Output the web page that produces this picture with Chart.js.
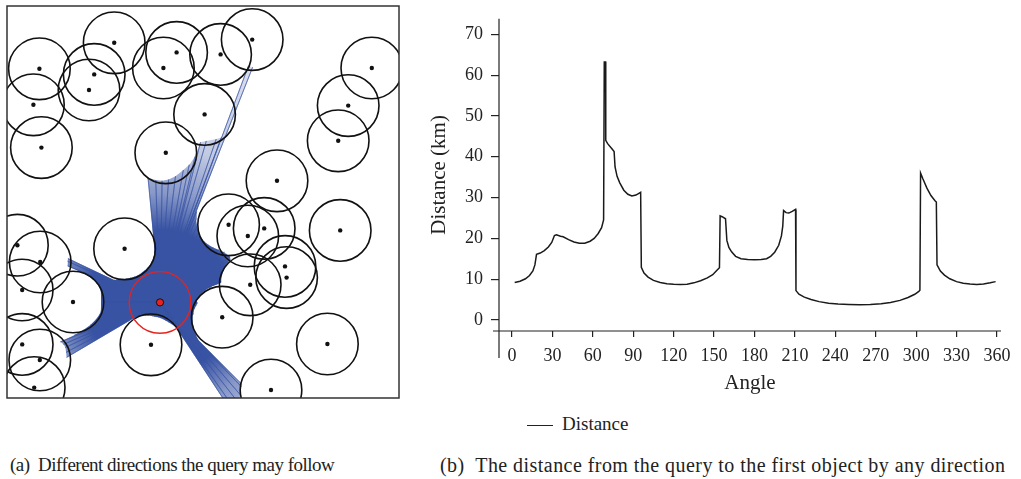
<!DOCTYPE html>
<html>
<head>
<meta charset="utf-8">
<script src="https://cdn.jsdelivr.net/npm/chart.js@4.4.1/dist/chart.umd.min.js"></script>
<style>
  html, body { margin: 0; padding: 0; background: #fff; }
  #fig { position: relative; width: 1021px; height: 479px; overflow: hidden; font-family: 'Liberation Serif', serif; color: #222; }
  #left-wrap  { position: absolute; left: 0; top: 0; width: 410px; height: 405px; }
  #right-wrap { position: absolute; left: 420px; top: 0; width: 601px; height: 400px; }
  .legend { position: absolute; left: 527px; top: 411px; font-size: 19px; line-height: 26px; }
  .legend .swatch { display: inline-block; width: 26px; border-top: 1.4px solid #222; vertical-align: middle; margin-right: 9px; }
  .caption { position: absolute; top: 452px; font-size: 19px; line-height: 26px; white-space: nowrap; }
  #cap-a { left: 10px; letter-spacing: -0.5px; }
  #cap-b { left: 440px; font-size: 20px; letter-spacing: 0.45px; }
</style>
</head>
<body>
<div id="fig">
  <div id="left-wrap"><canvas id="dir-chart"></canvas></div>
  <div id="right-wrap"><canvas id="dist-chart"></canvas></div>
  <div class="legend"><span class="swatch"></span>Distance</div>
  <div class="caption" id="cap-a">(a)&nbsp; Different directions the query may follow</div>
  <div class="caption" id="cap-b">(b)&nbsp; The distance from the query to the first object by any direction</div>
</div>

<script>
// ─── DATA ────────────────────────────────────────────────────────
// direction (degrees, counter-clockwise from east) -> distance to first object (km)
const angles = [
  2, 6, 10, 13, 15.5, 17, 17.8, 18.2, 21, 24, 27, 29.5, 31.5, 33, 36, 38, 42, 46, 50, 54,
  58, 61, 64, 66.5, 68, 68.5, 69.5, 69.6, 71, 74, 75.8, 76.5, 78, 80, 83, 86, 89, 92, 95.5, 96,
  98, 101, 105, 110, 115, 120, 125, 130, 135, 140, 145, 149, 152.5, 154, 154.5, 156, 158.5, 159.5, 161, 163,
  166, 170, 175, 180, 185, 189, 192, 195, 198, 200, 201, 201.6, 203.5, 205.5, 208, 210.5, 210.8, 213, 217, 222,
  228, 235, 242, 250, 258, 266, 274, 281, 288, 294, 299, 302, 302.8, 303.3, 305, 308, 311, 314, 315, 315.5,
  318, 321, 325, 330, 335, 340, 345, 350, 355, 359
];
const distances = [
  9.2, 9.5, 10.1, 10.9, 12.0, 13.5, 15.2, 16.1, 16.4, 17.0, 17.9, 19.0, 20.7, 20.9, 20.5, 20.4, 19.7, 19.1, 18.8, 18.8,
  19.3, 20.0, 21.2, 22.6, 24.5, 63.2, 63.2, 44.0, 43.2, 42.0, 41.3, 37.5, 35.2, 33.6, 31.8, 30.8, 30.4, 30.6, 31.3, 12.9,
  11.5, 10.5, 9.7, 9.2, 8.9, 8.75, 8.7, 8.75, 9.1, 9.6, 10.3, 11.1, 12.3, 12.8, 25.5, 25.3, 24.8, 19.5, 17.8, 16.7,
  15.6, 15.0, 14.8, 14.75, 14.8, 15.0, 15.6, 16.6, 18.3, 20.6, 23.0, 26.8, 26.3, 26.2, 26.6, 27.1, 7.2, 6.3, 5.6, 5.0,
  4.5, 4.1, 3.9, 3.8, 3.75, 3.8, 4.0, 4.3, 4.8, 5.5, 6.3, 7.0, 7.3, 36.0, 34.6, 32.3, 30.5, 29.2, 28.9, 13.5,
  12.0, 11.0, 10.1, 9.4, 9.0, 8.8, 8.7, 8.8, 9.1, 9.4
];
const xTicks = [0, 30, 60, 90, 120, 150, 180, 210, 240, 270, 300, 330, 360];
const yTicks = [0, 10, 20, 30, 40, 50, 60, 70];

// objects on the map (km) and the query
const circleX = [8.1, 6.6, 8.6, 21.8, 20.5, 26.8, 39.1, 42.4, 53.4, 61.3, 49.4, 39.7, 91.2, 85.3, 82.8, 67.5, 55.4, 60.2,
                 64.3, 83.3, 69.5, 69.9, 60.8, 29.4, 2.6, 8.3, 3.8, 16.5, 53.8, 36.0, 80.1, 3.8, 8.2, 6.8, 66.0];
const circleY = [82.3, 73.3, 62.6, 80.9, 77.0, 88.8, 82.5, 86.4, 85.9, 89.6, 70.9, 61.3, 82.5, 73.1, 64.3, 54.3, 43.3, 40.5,
                 42.4, 41.9, 32.9, 30.1, 28.3, 37.3, 38.2, 34.0, 27.0, 24.0, 20.2, 13.3, 13.5, 13.4, 9.5, 2.6, 2.0];
const queryX = 38.25;
const queryY = 23.9;
const objectRadius = 7.7;   // km
const mapSize = 98;         // km

const RED = '#e8231f';
const INK = '#222';

Chart.defaults.font.family = "'Liberation Serif', serif";
Chart.defaults.color = INK;
Chart.defaults.animation = false;

// ─── LEFT: DIRECTIONS MAP ────────────────────────────────────────
const rad = a => a * Math.PI / 180;
const rayEnds = angles.map((a, i) => ({
  x: queryX + distances[i] * Math.cos(rad(a)),
  y: queryY + distances[i] * Math.sin(rad(a))
}));
const rayFan = rayEnds.flatMap(p => [{ x: queryX, y: queryY }, p]);
const centers = circleX.map((x, i) => ({ x, y: circleY[i] }));

const kmToPx = chart => chart.scales.x.getPixelForValue(objectRadius) - chart.scales.x.getPixelForValue(0);

function fanGradient(ctx) {
  const chart = ctx.chart;
  if (!chart.chartArea) return 'rgba(56,83,163,0.6)';
  const px = chart.scales.x.getPixelForValue(queryX);
  const py = chart.scales.y.getPixelForValue(queryY);
  const g = chart.ctx.createRadialGradient(px, py, 0, px, py, 260);
  g.addColorStop(0, 'rgba(56,83,163,1)');
  g.addColorStop(0.28, 'rgba(56,83,163,1)');
  g.addColorStop(0.42, 'rgba(56,83,163,0.6)');
  g.addColorStop(0.6, 'rgba(56,83,163,0.3)');
  g.addColorStop(1, 'rgba(56,83,163,0.18)');
  return g;
}

const frameBox = {
  id: 'frameBox',
  afterDraw(chart) {
    const { ctx, chartArea: a } = chart;
    ctx.save();
    ctx.strokeStyle = '#333';
    ctx.lineWidth = 1.5;
    ctx.strokeRect(a.left, a.top, a.right - a.left, a.bottom - a.top);
    ctx.restore();
  }
};

new Chart(document.getElementById('dir-chart'), {
  type: 'scatter',
  data: {
    datasets: [
      { label: 'query', data: [{ x: queryX, y: queryY }], order: 0,
        pointRadius: 3.6, pointBackgroundColor: RED, pointBorderColor: '#111', pointBorderWidth: 1 },
      { label: 'query range', data: [{ x: queryX, y: queryY }], order: 1,
        pointRadius: ctx => kmToPx(ctx.chart), pointBackgroundColor: 'rgba(0,0,0,0)',
        pointBorderColor: RED, pointBorderWidth: 1.4 },
      { label: 'centres', data: centers, order: 1,
        pointRadius: 2.2, pointBackgroundColor: '#111', pointBorderWidth: 0 },
      { label: 'objects', data: centers, order: 2,
        pointRadius: ctx => kmToPx(ctx.chart), pointBackgroundColor: 'rgba(0,0,0,0)',
        pointBorderColor: '#111', pointBorderWidth: 1.6 },
      { label: 'rays', data: rayFan, order: 3, showLine: true,
        pointRadius: 0, borderColor: 'rgba(56,83,163,0.85)', borderWidth: 0.6 },
      { label: 'reach', data: rayEnds, order: 4, showLine: true, fill: 'shape',
        pointRadius: 0, borderWidth: 0, borderColor: 'rgba(0,0,0,0)', backgroundColor: fanGradient }
    ]
  },
  options: {
    responsive: true, maintainAspectRatio: false,
    events: [],
    layout: { padding: { left: 7, top: 6, right: 11, bottom: 7 } },
    plugins: { legend: { display: false }, tooltip: { enabled: false } },
    scales: {
      x: { display: false, min: 0, max: mapSize },
      y: { display: false, min: 0, max: mapSize }
    }
  },
  plugins: [frameBox]
});

// ─── RIGHT: DISTANCE BY ANGLE ────────────────────────────────────
const axisLines = {
  id: 'axisLines',
  afterDraw(chart) {
    const { ctx, chartArea: a } = chart;
    ctx.save();
    ctx.strokeStyle = INK;
    ctx.lineWidth = 1.2;
    ctx.beginPath();
    ctx.moveTo(a.left, a.top);        ctx.lineTo(a.left, a.bottom + 27);
    ctx.moveTo(a.left - 6, a.bottom); ctx.lineTo(a.right, a.bottom);
    ctx.stroke();
    ctx.restore();
  }
};

new Chart(document.getElementById('dist-chart'), {
  type: 'scatter',
  data: {
    datasets: [{
      label: 'Distance',
      data: angles.map((a, i) => ({ x: a, y: distances[i] })),
      showLine: true,
      borderColor: '#1a1a1a',
      borderWidth: 1.5,
      pointRadius: 0,
      tension: 0
    }]
  },
  options: {
    responsive: true, maintainAspectRatio: false,
    events: [],
    layout: { padding: { top: 6, right: 20, left: 0, bottom: 0 } },
    plugins: { legend: { display: false }, tooltip: { enabled: false } },
    scales: {
      x: {
        type: 'linear', min: -9.65, max: 363,
        afterBuildTicks: s => { s.ticks = xTicks.map(v => ({ value: v })); },
        afterFit: s => { s.height = 69; },
        border: { display: false },
        grid: { drawOnChartArea: false, drawTicks: true, tickLength: 6, color: INK, lineWidth: 1.2 },
        ticks: { font: { size: 18 }, color: INK, padding: 8, maxRotation: 0 },
        title: { display: true, text: 'Angle', font: { size: 21 }, color: INK, padding: { top: 0, bottom: 4 } }
      },
      y: {
        type: 'linear', min: -2.7, max: 73.8,
        afterBuildTicks: s => { s.ticks = yTicks.map(v => ({ value: v })); },
        afterFit: s => { s.width = 79; },
        border: { display: false },
        grid: { drawOnChartArea: false, drawTicks: true, tickLength: 8, color: INK, lineWidth: 1.2 },
        ticks: { font: { size: 18 }, color: INK, padding: 8 },
        title: { display: true, text: 'Distance (km)', font: { size: 21 }, color: INK, padding: { top: 7, bottom: 0 } }
      }
    }
  },
  plugins: [axisLines]
});
</script>
</body>
</html>
